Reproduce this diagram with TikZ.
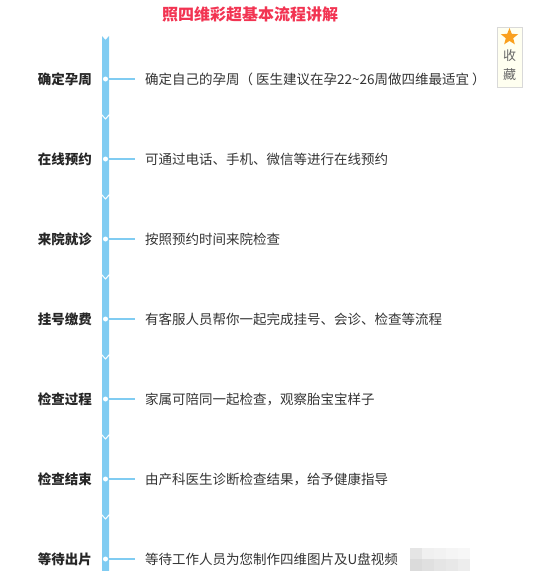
\documentclass[tikz,border=0pt]{standalone}
\usepackage{fontspec}
\setmainfont{Noto Sans CJK SC}
\usepackage{xcolor}
\usepackage{tikz}
\usetikzlibrary{shapes.geometric, positioning, calc}

\definecolor{barblue}{RGB}{128,204,242}
\definecolor{titlered}{RGB}{242,52,82}
\definecolor{txtgray}{RGB}{51,51,51}
\definecolor{boxcream}{RGB}{255,255,240}
\definecolor{starorange}{RGB}{250,160,30}

\tikzset{
  steplabel/.style={anchor=east, inner sep=0pt, font=\fontsize{13.5}{16}\selectfont\bfseries, text=black!85},
  stepdesc/.style={anchor=west, inner sep=0pt, font=\fontsize{13.5}{16}\selectfont, text=txtgray},
  stepdot/.style={circle, fill=white, inner sep=0pt, minimum size=5pt},
  tick/.style={barblue, line width=2pt}
}

\begin{document}
\begin{tikzpicture}[x=1pt, y=-1pt]
        \useasboundingbox (0,0) rectangle (542,571);
        % Title
        \node[font=\fontsize{16}{18}\selectfont\bfseries, text=titlered, inner sep=0pt] (title) at (250,14) {照四维彩超基本流程讲解};

        % Bar segments (notch on top, point at bottom)
        \foreach \t in {36,116,...,436} {
            \fill[barblue] (102,\t) -- (105.5,\t+4) -- (109,\t) -- (109,\t+78) -- (105.5,\t+82) -- (102,\t+78) -- cycle;
        }
        \fill[barblue] (102,516) -- (105.5,520) -- (109,516) -- (109,571) -- (102,571) -- cycle;

        % Steps
        \foreach \y/\lab/\txt [count=\i] in {
            79/确定孕周/{确定自己的孕周（\hspace{3pt}医生建议在孕22{\textasciitilde}26周做四维最适宜\hspace{3pt}）},
            159/在线预约/{可通过电话、手机、微信等进行在线预约},
            239/来院就诊/{按照预约时间来院检查},
            319/挂号缴费/{有客服人员帮你一起完成挂号、会诊、检查等流程},
            399/检查过程/{家属可陪同一起检查，观察胎宝宝样子},
            479/检查结束/{由产科医生诊断检查结果，给予健康指导},
            559/等待出片/{等待工作人员为您制作四维图片及U盘视频}} {
            \node[stepdot] (dot\i) at (105.5,\y) {};
            \coordinate (end\i) at (135,\y);
            \draw[tick] (dot\i.east) -- (end\i);
            \node[steplabel] (lab\i) at (92,\y) {\lab};
            \node[stepdesc] (desc\i) at (145,\y) {\txt};
        }

        % Collect button
        \node[draw=black!15, fill=boxcream, minimum width=25pt, minimum height=60pt, inner sep=0pt] (collect) at (509.5,57) {};
        \node[star, star points=5, star point ratio=2.3, fill=starorange, inner sep=0pt, minimum size=18pt] (star) at (509.5,37) {};
        \node[font=\fontsize{13}{15}\selectfont, text=black!60, inner sep=0pt] (shou) at (509.5,56) {收};
        \node[font=\fontsize{13}{15}\selectfont, text=black!60, inner sep=0pt] (cang) at (509.5,75) {藏};

        % Blurred watermark
        \foreach \x/\y/\s in {410/548/10, 422/548/6, 434/548/5, 446/548/4, 458/548/3,
                              410/559/14, 422/559/12, 434/559/10, 446/559/9, 458/559/7} {
            \fill[black!\s] (\x,\y) rectangle (\x+12,\y+12);
        }
    \end{tikzpicture}
\end{document}
